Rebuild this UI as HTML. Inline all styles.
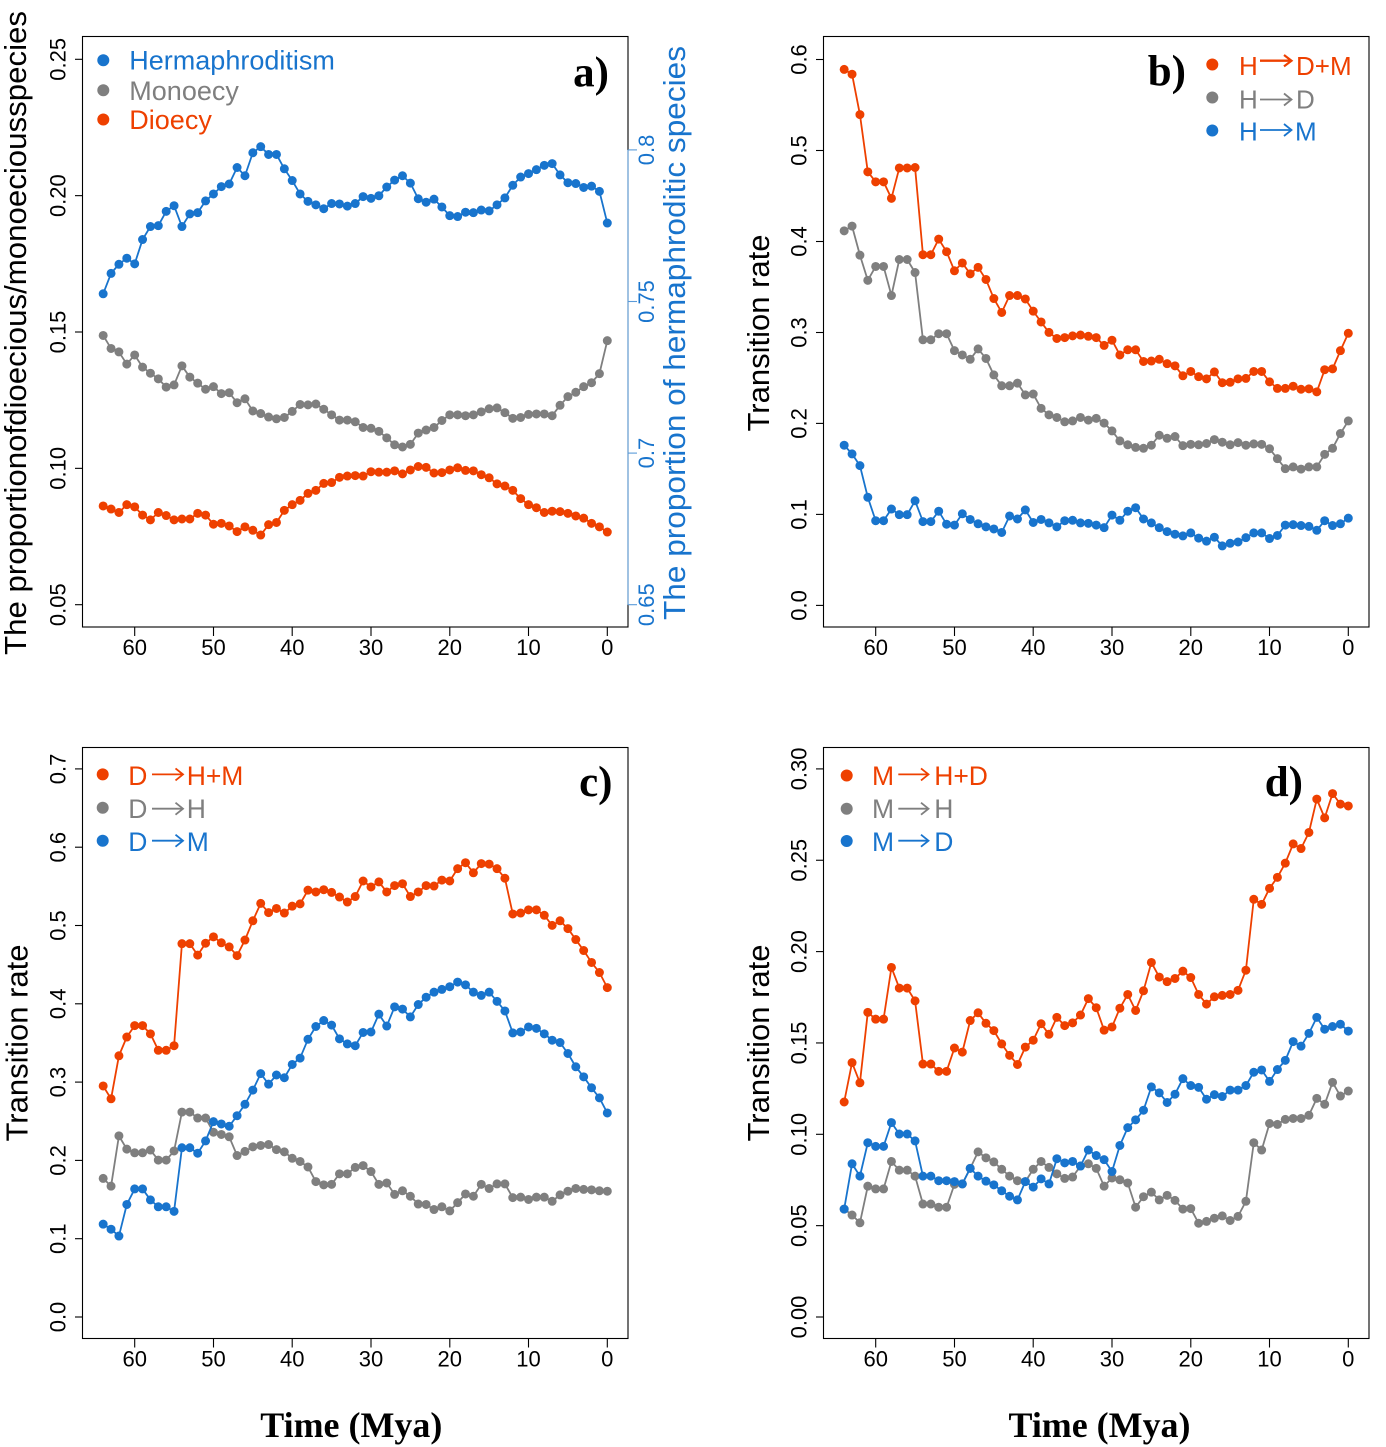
<!DOCTYPE html>
<html><head><meta charset="utf-8"><style>
html,body{margin:0;padding:0;background:#fff}
svg{display:block}
.l{fill:none;stroke-width:1.8;stroke-linejoin:round}
.d{fill:none;stroke-width:9;stroke-linecap:round}
.tk{font-family:"Liberation Sans",Arial,sans-serif;font-size:22px}
.lg{font-family:"Liberation Sans",Arial,sans-serif}
.pl{font-family:"Liberation Serif","Times New Roman",serif;font-weight:bold;font-size:43px}
.tt{font-family:"Liberation Sans",Arial,sans-serif;font-size:31px}
</style></head><body>
<svg width="1386" height="1447" viewBox="0 0 1386 1447" xmlns="http://www.w3.org/2000/svg">
<rect width="1386" height="1447" fill="#fff"/>

<!-- boxes -->
<g fill="none" stroke="#000" stroke-width="1.1">
<rect x="82.5" y="36.5" width="545.5" height="590.5"/>
<rect x="823.5" y="36.5" width="545.5" height="590.5"/>
<rect x="82.5" y="747.5" width="545.5" height="591"/>
<rect x="823.5" y="747.5" width="545.5" height="591"/>
</g>
<!-- right axis panel a -->
<line x1="628" y1="149.9" x2="628" y2="604.7" stroke="#7BAEE0" stroke-width="1.3"/>
<g stroke="#5A9AD8" stroke-width="1.1">
<line x1="628" y1="604.7" x2="637" y2="604.7"/><line x1="628" y1="453.1" x2="637" y2="453.1"/><line x1="628" y1="301.5" x2="637" y2="301.5"/><line x1="628" y1="149.9" x2="637" y2="149.9"/>
</g>

<!-- ticks -->
<g stroke="#000" stroke-width="1.1">
<line x1="75" y1="604.7" x2="82.5" y2="604.7"/><line x1="75" y1="468.35" x2="82.5" y2="468.35"/><line x1="75" y1="332" x2="82.5" y2="332"/><line x1="75" y1="195.65" x2="82.5" y2="195.65"/><line x1="75" y1="59.3" x2="82.5" y2="59.3"/>
<line x1="816" y1="605.4" x2="823.5" y2="605.4"/><line x1="816" y1="514.4" x2="823.5" y2="514.4"/><line x1="816" y1="423.4" x2="823.5" y2="423.4"/><line x1="816" y1="332.5" x2="823.5" y2="332.5"/><line x1="816" y1="241.5" x2="823.5" y2="241.5"/><line x1="816" y1="150.5" x2="823.5" y2="150.5"/><line x1="816" y1="59.5" x2="823.5" y2="59.5"/>
<line x1="75" y1="1317" x2="82.5" y2="1317"/><line x1="75" y1="1238.7" x2="82.5" y2="1238.7"/><line x1="75" y1="1160.4" x2="82.5" y2="1160.4"/><line x1="75" y1="1082.1" x2="82.5" y2="1082.1"/><line x1="75" y1="1003.8" x2="82.5" y2="1003.8"/><line x1="75" y1="925.5" x2="82.5" y2="925.5"/><line x1="75" y1="847.2" x2="82.5" y2="847.2"/><line x1="75" y1="768.9" x2="82.5" y2="768.9"/>
<line x1="816" y1="1317" x2="823.5" y2="1317"/><line x1="816" y1="1225.65" x2="823.5" y2="1225.65"/><line x1="816" y1="1134.3" x2="823.5" y2="1134.3"/><line x1="816" y1="1042.95" x2="823.5" y2="1042.95"/><line x1="816" y1="951.6" x2="823.5" y2="951.6"/><line x1="816" y1="860.25" x2="823.5" y2="860.25"/><line x1="816" y1="768.9" x2="823.5" y2="768.9"/>
<line x1="607.3" y1="627" x2="607.3" y2="636"/><line x1="528.5" y1="627" x2="528.5" y2="636"/><line x1="449.8" y1="627" x2="449.8" y2="636"/><line x1="371" y1="627" x2="371" y2="636"/><line x1="292.2" y1="627" x2="292.2" y2="636"/><line x1="213.5" y1="627" x2="213.5" y2="636"/><line x1="134.7" y1="627" x2="134.7" y2="636"/>
<line x1="1348.3" y1="627" x2="1348.3" y2="636"/><line x1="1269.5" y1="627" x2="1269.5" y2="636"/><line x1="1190.8" y1="627" x2="1190.8" y2="636"/><line x1="1112" y1="627" x2="1112" y2="636"/><line x1="1033.2" y1="627" x2="1033.2" y2="636"/><line x1="954.5" y1="627" x2="954.5" y2="636"/><line x1="875.7" y1="627" x2="875.7" y2="636"/>
<line x1="607.3" y1="1338.5" x2="607.3" y2="1347.5"/><line x1="528.5" y1="1338.5" x2="528.5" y2="1347.5"/><line x1="449.8" y1="1338.5" x2="449.8" y2="1347.5"/><line x1="371" y1="1338.5" x2="371" y2="1347.5"/><line x1="292.2" y1="1338.5" x2="292.2" y2="1347.5"/><line x1="213.5" y1="1338.5" x2="213.5" y2="1347.5"/><line x1="134.7" y1="1338.5" x2="134.7" y2="1347.5"/>
<line x1="1348.3" y1="1338.5" x2="1348.3" y2="1347.5"/><line x1="1269.5" y1="1338.5" x2="1269.5" y2="1347.5"/><line x1="1190.8" y1="1338.5" x2="1190.8" y2="1347.5"/><line x1="1112" y1="1338.5" x2="1112" y2="1347.5"/><line x1="1033.2" y1="1338.5" x2="1033.2" y2="1347.5"/><line x1="954.5" y1="1338.5" x2="954.5" y2="1347.5"/><line x1="875.7" y1="1338.5" x2="875.7" y2="1347.5"/>
</g>

<!-- x tick labels -->
<g class="tk" text-anchor="middle" fill="#000">
<text x="607.3" y="655">0</text><text x="528.5" y="655">10</text><text x="449.8" y="655">20</text><text x="371" y="655">30</text><text x="292.2" y="655">40</text><text x="213.5" y="655">50</text><text x="134.7" y="655">60</text>
<text x="1348.3" y="655">0</text><text x="1269.5" y="655">10</text><text x="1190.8" y="655">20</text><text x="1112" y="655">30</text><text x="1033.2" y="655">40</text><text x="954.5" y="655">50</text><text x="875.7" y="655">60</text>
<text x="607.3" y="1366.5">0</text><text x="528.5" y="1366.5">10</text><text x="449.8" y="1366.5">20</text><text x="371" y="1366.5">30</text><text x="292.2" y="1366.5">40</text><text x="213.5" y="1366.5">50</text><text x="134.7" y="1366.5">60</text>
<text x="1348.3" y="1366.5">0</text><text x="1269.5" y="1366.5">10</text><text x="1190.8" y="1366.5">20</text><text x="1112" y="1366.5">30</text><text x="1033.2" y="1366.5">40</text><text x="954.5" y="1366.5">50</text><text x="875.7" y="1366.5">60</text>
</g>

<!-- y tick labels -->
<g class="tk" text-anchor="middle" fill="#000">
<text transform="translate(65.5,604.7) rotate(-90)">0.05</text>
<text transform="translate(65.5,468.35) rotate(-90)">0.10</text>
<text transform="translate(65.5,332) rotate(-90)">0.15</text>
<text transform="translate(65.5,195.65) rotate(-90)">0.20</text>
<text transform="translate(65.5,59.3) rotate(-90)">0.25</text>

<text transform="translate(806.5,605.4) rotate(-90)">0.0</text>
<text transform="translate(806.5,514.4) rotate(-90)">0.1</text>
<text transform="translate(806.5,423.4) rotate(-90)">0.2</text>
<text transform="translate(806.5,332.5) rotate(-90)">0.3</text>
<text transform="translate(806.5,241.5) rotate(-90)">0.4</text>
<text transform="translate(806.5,150.5) rotate(-90)">0.5</text>
<text transform="translate(806.5,59.5) rotate(-90)">0.6</text>

<text transform="translate(65.5,1317) rotate(-90)">0.0</text>
<text transform="translate(65.5,1238.7) rotate(-90)">0.1</text>
<text transform="translate(65.5,1160.4) rotate(-90)">0.2</text>
<text transform="translate(65.5,1082.1) rotate(-90)">0.3</text>
<text transform="translate(65.5,1003.8) rotate(-90)">0.4</text>
<text transform="translate(65.5,925.5) rotate(-90)">0.5</text>
<text transform="translate(65.5,847.2) rotate(-90)">0.6</text>
<text transform="translate(65.5,768.9) rotate(-90)">0.7</text>

<text transform="translate(806.5,1317) rotate(-90)">0.00</text>
<text transform="translate(806.5,1225.65) rotate(-90)">0.05</text>
<text transform="translate(806.5,1134.3) rotate(-90)">0.10</text>
<text transform="translate(806.5,1042.95) rotate(-90)">0.15</text>
<text transform="translate(806.5,951.6) rotate(-90)">0.20</text>
<text transform="translate(806.5,860.25) rotate(-90)">0.25</text>
<text transform="translate(806.5,768.9) rotate(-90)">0.30</text>
</g>
<g class="tk" text-anchor="middle" fill="#1874CD">
<text transform="translate(654,604.7) rotate(-90)">0.65</text>
<text transform="translate(654,453.1) rotate(-90)">0.7</text>
<text transform="translate(654,301.5) rotate(-90)">0.75</text>
<text transform="translate(654,149.9) rotate(-90)">0.8</text>
</g>

<!-- axis titles -->
<g class="tt" text-anchor="middle">
<text transform="translate(26,333) rotate(-90)" fill="#000" textLength="644" lengthAdjust="spacingAndGlyphs">The proportionofdioecious/monoeciousspecies</text>
<text transform="translate(685,333) rotate(-90)" fill="#1874CD" textLength="574" lengthAdjust="spacingAndGlyphs">The proportion of hermaphroditic species</text>
<text transform="translate(769,333) rotate(-90)" fill="#000" textLength="197" lengthAdjust="spacingAndGlyphs">Transition rate</text>
<text transform="translate(27.5,1043) rotate(-90)" fill="#000" textLength="197" lengthAdjust="spacingAndGlyphs">Transition rate</text>
<text transform="translate(769,1043) rotate(-90)" fill="#000" textLength="197" lengthAdjust="spacingAndGlyphs">Transition rate</text>
</g>
<g font-family="'Liberation Serif','Times New Roman',serif" font-weight="bold" font-size="36" text-anchor="middle" fill="#000">
<text x="351.3" y="1437" textLength="182" lengthAdjust="spacingAndGlyphs">Time (Mya)</text>
<text x="1099.5" y="1437" textLength="182" lengthAdjust="spacingAndGlyphs">Time (Mya)</text>
</g>

<!-- panel labels -->
<g class="pl" text-anchor="end" fill="#000">
<text x="609" y="86.7">a)</text>
<text x="1186" y="85">b)</text>
<text x="612.5" y="796">c)</text>
<text x="1303" y="796">d)</text>
</g>

<!-- ===== Panel a data ===== -->
<g transform="matrix(-7.877 0 0 0.43395 607.3 0)">
<polyline class="l" vector-effect="non-scaling-stroke" stroke="#1874CD" points="64,677 63,630 62,609 61,595 60,608 59,552 58,522 57,520 56,487 55,474 54,522 53,493 52,490 51,463 50,447 49,430 48,424 47,386 46,405 45,352 44,338 43,356 42,356 41,389 40,416 39,447 38,464 37,472 36,481 35,469 34,470 33,475 32,469 31,453 30,457 29,451 28,431 27,415 26,405 25,422 24,458 23,466 22,459 21,477 20,497 19,499 18,489 17,490 16,484 15,486 14,472 13,456 12,427 11,408 10,400 9,391 8,381 7,377 6,403 5,421 4,423 3,432 2,429 1,441 0,514"/>
<path class="d" vector-effect="non-scaling-stroke" stroke="#1874CD" d="M64 677h0M63 630h0M62 609h0M61 595h0M60 608h0M59 552h0M58 522h0M57 520h0M56 487h0M55 474h0M54 522h0M53 493h0M52 490h0M51 463h0M50 447h0M49 430h0M48 424h0M47 386h0M46 405h0M45 352h0M44 338h0M43 356h0M42 356h0M41 389h0M40 416h0M39 447h0M38 464h0M37 472h0M36 481h0M35 469h0M34 470h0M33 475h0M32 469h0M31 453h0M30 457h0M29 451h0M28 431h0M27 415h0M26 405h0M25 422h0M24 458h0M23 466h0M22 459h0M21 477h0M20 497h0M19 499h0M18 489h0M17 490h0M16 484h0M15 486h0M14 472h0M13 456h0M12 427h0M11 408h0M10 400h0M9 391h0M8 381h0M7 377h0M6 403h0M5 421h0M4 423h0M3 432h0M2 429h0M1 441h0M0 514h0"/>
<polyline class="l" vector-effect="non-scaling-stroke" stroke="#7F7F7F" points="64,773 63,803 62,811 61,839 60,818 59,846 58,860 57,873 56,892 55,887 54,843 53,869 52,883 51,897 50,891 49,907 48,905 47,928 46,919 45,947 44,953 43,961 42,965 41,962 40,948 39,932 38,933 37,931 36,943 35,956 34,968 33,968 32,972 31,985 30,987 29,994 28,1009 27,1025 26,1030 25,1024 24,998 23,991 22,985 21,969 20,956 19,956 18,958 17,956 16,949 15,942 14,940 13,951 12,964 11,962 10,955 9,954 8,954 7,958 6,934 5,914 4,904 3,891 2,882 1,861 0,785"/>
<path class="d" vector-effect="non-scaling-stroke" stroke="#7F7F7F" d="M64 773h0M63 803h0M62 811h0M61 839h0M60 818h0M59 846h0M58 860h0M57 873h0M56 892h0M55 887h0M54 843h0M53 869h0M52 883h0M51 897h0M50 891h0M49 907h0M48 905h0M47 928h0M46 919h0M45 947h0M44 953h0M43 961h0M42 965h0M41 962h0M40 948h0M39 932h0M38 933h0M37 931h0M36 943h0M35 956h0M34 968h0M33 968h0M32 972h0M31 985h0M30 987h0M29 994h0M28 1009h0M27 1025h0M26 1030h0M25 1024h0M24 998h0M23 991h0M22 985h0M21 969h0M20 956h0M19 956h0M18 958h0M17 956h0M16 949h0M15 942h0M14 940h0M13 951h0M12 964h0M11 962h0M10 955h0M9 954h0M8 954h0M7 958h0M6 934h0M5 914h0M4 904h0M3 891h0M2 882h0M1 861h0M0 785h0"/>
<polyline class="l" vector-effect="non-scaling-stroke" stroke="#EE4000" points="64,1166 63,1173 62,1181 61,1163 60,1168 59,1187 58,1198 57,1181 56,1188 55,1198 54,1196 53,1196 52,1183 51,1187 50,1208 49,1206 48,1212 47,1225 46,1214 45,1222 44,1233 43,1209 42,1204 41,1176 40,1163 39,1153 38,1137 37,1130 36,1114 35,1112 34,1100 33,1097 32,1096 31,1097 30,1087 29,1088 28,1088 27,1085 26,1092 25,1083 24,1075 23,1077 22,1090 21,1089 20,1083 19,1078 18,1084 17,1085 16,1094 15,1101 14,1115 13,1120 12,1130 11,1149 10,1163 9,1170 8,1181 7,1178 6,1179 5,1183 4,1189 3,1194 2,1206 1,1214 0,1226"/>
<path class="d" vector-effect="non-scaling-stroke" stroke="#EE4000" d="M64 1166h0M63 1173h0M62 1181h0M61 1163h0M60 1168h0M59 1187h0M58 1198h0M57 1181h0M56 1188h0M55 1198h0M54 1196h0M53 1196h0M52 1183h0M51 1187h0M50 1208h0M49 1206h0M48 1212h0M47 1225h0M46 1214h0M45 1222h0M44 1233h0M43 1209h0M42 1204h0M41 1176h0M40 1163h0M39 1153h0M38 1137h0M37 1130h0M36 1114h0M35 1112h0M34 1100h0M33 1097h0M32 1096h0M31 1097h0M30 1087h0M29 1088h0M28 1088h0M27 1085h0M26 1092h0M25 1083h0M24 1075h0M23 1077h0M22 1090h0M21 1089h0M20 1083h0M19 1078h0M18 1084h0M17 1085h0M16 1094h0M15 1101h0M14 1115h0M13 1120h0M12 1130h0M11 1149h0M10 1163h0M9 1170h0M8 1181h0M7 1178h0M6 1179h0M5 1183h0M4 1189h0M3 1194h0M2 1206h0M1 1214h0M0 1226h0"/>
</g>

<!-- ===== Panel b data ===== -->
<g transform="matrix(-7.877 0 0 0.43395 1348.3 0)">
<polyline class="l" vector-effect="non-scaling-stroke" stroke="#1874CD" points="64,1026 63,1046 62,1073 61,1146 60,1200 59,1200 58,1173 57,1186 56,1186 55,1154 54,1202 53,1202 52,1178 51,1208 50,1210 49,1184 48,1197 47,1207 46,1214 45,1219 44,1227 43,1189 42,1196 41,1175 40,1204 39,1197 38,1205 37,1214 36,1200 35,1199 34,1205 33,1206 32,1210 31,1216 30,1187 29,1199 28,1178 27,1170 26,1196 25,1205 24,1216 23,1225 22,1231 21,1235 20,1228 19,1240 18,1247 17,1238 16,1258 15,1252 14,1249 13,1239 12,1228 11,1228 10,1241 9,1234 8,1210 7,1209 6,1211 5,1213 4,1222 3,1200 2,1211 1,1207 0,1194"/>
<path class="d" vector-effect="non-scaling-stroke" stroke="#1874CD" d="M64 1026h0M63 1046h0M62 1073h0M61 1146h0M60 1200h0M59 1200h0M58 1173h0M57 1186h0M56 1186h0M55 1154h0M54 1202h0M53 1202h0M52 1178h0M51 1208h0M50 1210h0M49 1184h0M48 1197h0M47 1207h0M46 1214h0M45 1219h0M44 1227h0M43 1189h0M42 1196h0M41 1175h0M40 1204h0M39 1197h0M38 1205h0M37 1214h0M36 1200h0M35 1199h0M34 1205h0M33 1206h0M32 1210h0M31 1216h0M30 1187h0M29 1199h0M28 1178h0M27 1170h0M26 1196h0M25 1205h0M24 1216h0M23 1225h0M22 1231h0M21 1235h0M20 1228h0M19 1240h0M18 1247h0M17 1238h0M16 1258h0M15 1252h0M14 1249h0M13 1239h0M12 1228h0M11 1228h0M10 1241h0M9 1234h0M8 1210h0M7 1209h0M6 1211h0M5 1213h0M4 1222h0M3 1200h0M2 1211h0M1 1207h0M0 1194h0"/>
<polyline class="l" vector-effect="non-scaling-stroke" stroke="#7F7F7F" points="64,532 63,521 62,588 61,646 60,614 59,614 58,681 57,598 56,598 55,628 54,783 53,783 52,769 51,769 50,808 49,818 48,828 47,804 46,826 45,864 44,889 43,889 42,883 41,910 40,908 39,941 38,956 37,962 36,972 35,970 34,962 33,968 32,964 31,975 30,993 29,1016 28,1025 27,1031 26,1033 25,1026 24,1003 23,1010 22,1006 21,1027 20,1024 19,1025 18,1022 17,1013 16,1019 15,1025 14,1020 13,1026 12,1023 11,1024 10,1034 9,1057 8,1080 7,1076 6,1081 5,1076 4,1076 3,1047 2,1033 1,999 0,970"/>
<path class="d" vector-effect="non-scaling-stroke" stroke="#7F7F7F" d="M64 532h0M63 521h0M62 588h0M61 646h0M60 614h0M59 614h0M58 681h0M57 598h0M56 598h0M55 628h0M54 783h0M53 783h0M52 769h0M51 769h0M50 808h0M49 818h0M48 828h0M47 804h0M46 826h0M45 864h0M44 889h0M43 889h0M42 883h0M41 910h0M40 908h0M39 941h0M38 956h0M37 962h0M36 972h0M35 970h0M34 962h0M33 968h0M32 964h0M31 975h0M30 993h0M29 1016h0M28 1025h0M27 1031h0M26 1033h0M25 1026h0M24 1003h0M23 1010h0M22 1006h0M21 1027h0M20 1024h0M19 1025h0M18 1022h0M17 1013h0M16 1019h0M15 1025h0M14 1020h0M13 1026h0M12 1023h0M11 1024h0M10 1034h0M9 1057h0M8 1080h0M7 1076h0M6 1081h0M5 1076h0M4 1076h0M3 1047h0M2 1033h0M1 999h0M0 970h0"/>
<polyline class="l" vector-effect="non-scaling-stroke" stroke="#EE4000" points="64,160 63,171 62,264 61,396 60,419 59,419 58,457 57,387 56,387 55,386 54,587 53,587 52,551 51,580 50,624 49,606 48,631 47,616 46,644 45,688 44,720 43,681 42,681 41,689 40,717 39,742 38,766 37,780 36,778 35,774 34,772 33,775 32,778 31,796 30,784 29,818 28,806 27,806 26,833 25,832 24,828 23,838 22,843 21,866 20,856 19,868 18,873 17,857 16,882 15,881 14,873 13,872 12,856 11,856 10,880 9,895 8,895 7,890 6,897 5,896 4,903 3,852 2,850 1,808 0,768"/>
<path class="d" vector-effect="non-scaling-stroke" stroke="#EE4000" d="M64 160h0M63 171h0M62 264h0M61 396h0M60 419h0M59 419h0M58 457h0M57 387h0M56 387h0M55 386h0M54 587h0M53 587h0M52 551h0M51 580h0M50 624h0M49 606h0M48 631h0M47 616h0M46 644h0M45 688h0M44 720h0M43 681h0M42 681h0M41 689h0M40 717h0M39 742h0M38 766h0M37 780h0M36 778h0M35 774h0M34 772h0M33 775h0M32 778h0M31 796h0M30 784h0M29 818h0M28 806h0M27 806h0M26 833h0M25 832h0M24 828h0M23 838h0M22 843h0M21 866h0M20 856h0M19 868h0M18 873h0M17 857h0M16 882h0M15 881h0M14 873h0M13 872h0M12 856h0M11 856h0M10 880h0M9 895h0M8 895h0M7 890h0M6 897h0M5 896h0M4 903h0M3 852h0M2 850h0M1 808h0M0 768h0"/>
</g>

<!-- ===== Panel c data ===== -->
<g transform="matrix(-7.877 0 0 0.45756 607.3 730)">
<polyline class="l" vector-effect="non-scaling-stroke" stroke="#7F7F7F" points="64,980 63,997 62,887 61,916 60,924 59,924 58,918 57,940 56,940 55,920 54,835 53,835 52,848 51,848 50,879 49,884 48,889 47,930 46,921 45,911 44,908 43,906 42,917 41,922 40,936 39,943 38,955 37,987 36,994 35,993 34,970 33,970 32,956 31,952 30,965 29,993 28,990 27,1015 26,1007 25,1019 24,1036 23,1037 22,1048 21,1042 20,1051 19,1033 18,1014 17,1019 16,993 15,1002 14,992 13,992 12,1022 11,1021 10,1026 9,1021 8,1021 7,1030 6,1016 5,1008 4,1002 3,1004 2,1005 1,1007 0,1008"/>
<path class="d" vector-effect="non-scaling-stroke" stroke="#7F7F7F" d="M64 980h0M63 997h0M62 887h0M61 916h0M60 924h0M59 924h0M58 918h0M57 940h0M56 940h0M55 920h0M54 835h0M53 835h0M52 848h0M51 848h0M50 879h0M49 884h0M48 889h0M47 930h0M46 921h0M45 911h0M44 908h0M43 906h0M42 917h0M41 922h0M40 936h0M39 943h0M38 955h0M37 987h0M36 994h0M35 993h0M34 970h0M33 970h0M32 956h0M31 952h0M30 965h0M29 993h0M28 990h0M27 1015h0M26 1007h0M25 1019h0M24 1036h0M23 1037h0M22 1048h0M21 1042h0M20 1051h0M19 1033h0M18 1014h0M17 1019h0M16 993h0M15 1002h0M14 992h0M13 992h0M12 1022h0M11 1021h0M10 1026h0M9 1021h0M8 1021h0M7 1030h0M6 1016h0M5 1008h0M4 1002h0M3 1004h0M2 1005h0M1 1007h0M0 1008h0"/>
<polyline class="l" vector-effect="non-scaling-stroke" stroke="#1874CD" points="64,1080 63,1091 62,1106 61,1037 60,1003 59,1003 58,1027 57,1042 56,1042 55,1052 54,913 53,913 52,925 51,898 50,856 49,861 48,866 47,843 46,818 45,787 44,751 43,774 42,754 41,760 40,731 39,717 38,676 37,648 36,635 35,645 34,675 33,686 32,690 31,661 30,660 29,621 28,647 27,605 26,610 25,627 24,600 23,584 22,573 21,567 20,561 19,551 18,557 17,573 16,580 15,573 14,593 13,614 12,662 11,660 10,649 9,652 8,664 7,678 6,683 5,707 4,736 3,758 2,782 1,804 0,837"/>
<path class="d" vector-effect="non-scaling-stroke" stroke="#1874CD" d="M64 1080h0M63 1091h0M62 1106h0M61 1037h0M60 1003h0M59 1003h0M58 1027h0M57 1042h0M56 1042h0M55 1052h0M54 913h0M53 913h0M52 925h0M51 898h0M50 856h0M49 861h0M48 866h0M47 843h0M46 818h0M45 787h0M44 751h0M43 774h0M42 754h0M41 760h0M40 731h0M39 717h0M38 676h0M37 648h0M36 635h0M35 645h0M34 675h0M33 686h0M32 690h0M31 661h0M30 660h0M29 621h0M28 647h0M27 605h0M26 610h0M25 627h0M24 600h0M23 584h0M22 573h0M21 567h0M20 561h0M19 551h0M18 557h0M17 573h0M16 580h0M15 573h0M14 593h0M13 614h0M12 662h0M11 660h0M10 649h0M9 652h0M8 664h0M7 678h0M6 683h0M5 707h0M4 736h0M3 758h0M2 782h0M1 804h0M0 837h0"/>
<polyline class="l" vector-effect="non-scaling-stroke" stroke="#EE4000" points="64,778 63,806 62,712 61,671 60,646 59,646 58,664 57,700 56,700 55,690 54,467 53,467 52,492 51,466 50,452 49,465 48,474 47,493 46,459 45,417 44,379 43,399 42,390 41,400 40,385 39,380 38,350 37,354 36,349 35,355 34,365 33,376 32,364 31,330 30,343 29,332 28,354 27,340 26,336 25,364 24,354 23,340 22,341 21,328 20,330 19,303 18,290 17,312 16,292 15,293 14,303 13,324 12,402 11,400 10,393 9,393 8,405 7,427 6,417 5,434 4,458 3,482 2,508 1,530 0,563"/>
<path class="d" vector-effect="non-scaling-stroke" stroke="#EE4000" d="M64 778h0M63 806h0M62 712h0M61 671h0M60 646h0M59 646h0M58 664h0M57 700h0M56 700h0M55 690h0M54 467h0M53 467h0M52 492h0M51 466h0M50 452h0M49 465h0M48 474h0M47 493h0M46 459h0M45 417h0M44 379h0M43 399h0M42 390h0M41 400h0M40 385h0M39 380h0M38 350h0M37 354h0M36 349h0M35 355h0M34 365h0M33 376h0M32 364h0M31 330h0M30 343h0M29 332h0M28 354h0M27 340h0M26 336h0M25 364h0M24 354h0M23 340h0M22 341h0M21 328h0M20 330h0M19 303h0M18 290h0M17 312h0M16 292h0M15 293h0M14 303h0M13 324h0M12 402h0M11 400h0M10 393h0M9 393h0M8 405h0M7 427h0M6 417h0M5 434h0M4 458h0M3 482h0M2 508h0M1 530h0M0 563h0"/>
</g>

<!-- ===== Panel d data ===== -->
<g transform="matrix(-7.877 0 0 0.45756 1348.3 730)">
<polyline class="l" vector-effect="non-scaling-stroke" stroke="#7F7F7F" points="64,1047 63,1060 62,1077 61,997 60,1003 59,1003 58,943 57,962 56,962 55,975 54,1036 53,1036 52,1043 51,1043 50,993 49,992 48,958 47,922 46,935 45,944 44,960 43,975 42,985 41,987 40,960 39,943 38,956 37,970 36,980 35,977 34,953 33,948 32,958 31,997 30,979 29,983 28,990 27,1043 26,1020 25,1010 24,1027 23,1017 22,1028 21,1047 20,1046 19,1078 18,1074 17,1067 16,1062 15,1072 14,1063 13,1030 12,902 11,918 10,860 9,862 8,851 7,849 6,849 5,842 4,805 3,818 2,770 1,800 0,789"/>
<path class="d" vector-effect="non-scaling-stroke" stroke="#7F7F7F" d="M64 1047h0M63 1060h0M62 1077h0M61 997h0M60 1003h0M59 1003h0M58 943h0M57 962h0M56 962h0M55 975h0M54 1036h0M53 1036h0M52 1043h0M51 1043h0M50 993h0M49 992h0M48 958h0M47 922h0M46 935h0M45 944h0M44 960h0M43 975h0M42 985h0M41 987h0M40 960h0M39 943h0M38 956h0M37 970h0M36 980h0M35 977h0M34 953h0M33 948h0M32 958h0M31 997h0M30 979h0M29 983h0M28 990h0M27 1043h0M26 1020h0M25 1010h0M24 1027h0M23 1017h0M22 1028h0M21 1047h0M20 1046h0M19 1078h0M18 1074h0M17 1067h0M16 1062h0M15 1072h0M14 1063h0M13 1030h0M12 902h0M11 918h0M10 860h0M9 862h0M8 851h0M7 849h0M6 849h0M5 842h0M4 805h0M3 818h0M2 770h0M1 800h0M0 789h0"/>
<polyline class="l" vector-effect="non-scaling-stroke" stroke="#1874CD" points="64,1047 63,948 62,975 61,902 60,910 59,910 58,858 57,883 56,883 55,898 54,975 53,975 52,985 51,985 50,987 49,992 48,958 47,975 46,986 45,994 44,1007 43,1019 42,1027 41,987 40,999 39,981 38,992 37,937 36,946 35,943 34,953 33,918 32,930 31,939 30,965 29,908 28,869 27,852 26,831 25,780 24,793 23,814 22,796 21,762 20,777 19,781 18,807 17,797 16,801 15,787 14,787 13,777 12,748 11,743 10,768 9,742 8,722 7,681 6,691 5,663 4,628 3,654 2,648 1,643 0,658"/>
<path class="d" vector-effect="non-scaling-stroke" stroke="#1874CD" d="M64 1047h0M63 948h0M62 975h0M61 902h0M60 910h0M59 910h0M58 858h0M57 883h0M56 883h0M55 898h0M54 975h0M53 975h0M52 985h0M51 985h0M50 987h0M49 992h0M48 958h0M47 975h0M46 986h0M45 994h0M44 1007h0M43 1019h0M42 1027h0M41 987h0M40 999h0M39 981h0M38 992h0M37 937h0M36 946h0M35 943h0M34 953h0M33 918h0M32 930h0M31 939h0M30 965h0M29 908h0M28 869h0M27 852h0M26 831h0M25 780h0M24 793h0M23 814h0M22 796h0M21 762h0M20 777h0M19 781h0M18 807h0M17 797h0M16 801h0M15 787h0M14 787h0M13 777h0M12 748h0M11 743h0M10 768h0M9 742h0M8 722h0M7 681h0M6 691h0M5 663h0M4 628h0M3 654h0M2 648h0M1 643h0M0 658h0"/>
<polyline class="l" vector-effect="non-scaling-stroke" stroke="#EE4000" points="64,813 63,727 62,771 61,617 60,632 59,632 58,519 57,564 56,564 55,592 54,730 53,730 52,746 51,746 50,695 49,704 48,635 47,618 46,641 45,657 44,686 43,711 42,731 41,693 40,678 39,642 38,665 37,628 36,646 35,640 34,623 33,587 32,607 31,656 30,649 29,608 28,578 27,613 26,570 25,508 24,540 23,550 22,543 21,527 20,541 19,578 18,599 17,583 16,580 15,578 14,569 13,525 12,370 11,381 10,346 9,322 8,291 7,249 6,259 5,224 4,151 3,192 2,139 1,162 0,166"/>
<path class="d" vector-effect="non-scaling-stroke" stroke="#EE4000" d="M64 813h0M63 727h0M62 771h0M61 617h0M60 632h0M59 632h0M58 519h0M57 564h0M56 564h0M55 592h0M54 730h0M53 730h0M52 746h0M51 746h0M50 695h0M49 704h0M48 635h0M47 618h0M46 641h0M45 657h0M44 686h0M43 711h0M42 731h0M41 693h0M40 678h0M39 642h0M38 665h0M37 628h0M36 646h0M35 640h0M34 623h0M33 587h0M32 607h0M31 656h0M30 649h0M29 608h0M28 578h0M27 613h0M26 570h0M25 508h0M24 540h0M23 550h0M22 543h0M21 527h0M20 541h0M19 578h0M18 599h0M17 583h0M16 580h0M15 578h0M14 569h0M13 525h0M12 370h0M11 381h0M10 346h0M9 322h0M8 291h0M7 249h0M6 259h0M5 224h0M4 151h0M3 192h0M2 139h0M1 162h0M0 166h0"/>
</g>

<!-- ===== Legends ===== -->
<circle cx="103.3" cy="60.3" r="6" fill="#1874CD"/>
<circle cx="103.3" cy="90.3" r="6" fill="#7F7F7F"/>
<circle cx="103.3" cy="119.5" r="6" fill="#EE4000"/>
<g class="lg" font-size="27">
<text x="129.3" y="69.3" fill="#1874CD">Hermaphroditism</text>
<text x="129.3" y="100" fill="#7F7F7F">Monoecy</text>
<text x="129.3" y="129" fill="#EE4000">Dioecy</text>
</g>

<circle cx="1212.3" cy="64.5" r="6" fill="#EE4000"/>
<circle cx="1212.3" cy="97.5" r="6" fill="#7F7F7F"/>
<circle cx="1212.3" cy="130.5" r="6" fill="#1874CD"/>
<g class="lg" font-size="26">
<text x="1239" y="75" fill="#EE4000">H</text><text x="1296" y="75" fill="#EE4000">D+M</text>
<text x="1239" y="108.3" fill="#7F7F7F">H</text><text x="1296" y="108.3" fill="#7F7F7F">D</text>
<text x="1239" y="140.5" fill="#1874CD">H</text><text x="1295" y="140.5" fill="#1874CD">M</text>
</g>
<g fill="none" stroke-linecap="butt" stroke-linejoin="miter">
<line x1="1260" y1="60.7" x2="1291" y2="60.7" stroke="#EE4000" stroke-width="2.4"/>
<polyline points="1284,55 1291.5,60.7 1284,66.4" stroke="#EE4000" stroke-width="2.2"/>
<line x1="1260" y1="99.5" x2="1291" y2="99.5" stroke="#7F7F7F" stroke-width="1.8"/>
<polyline points="1284,93.5 1291.5,99.5 1284,105.5" stroke="#7F7F7F" stroke-width="1.8"/>
<line x1="1260" y1="130" x2="1291" y2="130" stroke="#1874CD" stroke-width="1.8"/>
<polyline points="1284,124 1291.5,130 1284,136" stroke="#1874CD" stroke-width="1.8"/>
</g>

<circle cx="102.7" cy="774.4" r="6" fill="#EE4000"/>
<circle cx="102.7" cy="807.8" r="6" fill="#7F7F7F"/>
<circle cx="102.7" cy="840.7" r="6" fill="#1874CD"/>
<g class="lg" font-size="26.5">
<text x="128.2" y="785" fill="#EE4000">D</text><text x="186.7" y="785" fill="#EE4000">H+M</text>
<text x="128.2" y="818" fill="#7F7F7F">D</text><text x="186.7" y="818" fill="#7F7F7F">H</text>
<text x="128.2" y="851" fill="#1874CD">D</text><text x="186.7" y="851" fill="#1874CD">M</text>
</g>
<g fill="none">
<line x1="152" y1="774.4" x2="182.5" y2="774.4" stroke="#EE4000" stroke-width="1.8"/>
<polyline points="175.5,768.4 183,774.4 175.5,780.4" stroke="#EE4000" stroke-width="1.8"/>
<line x1="152" y1="808.7" x2="182.5" y2="808.7" stroke="#7F7F7F" stroke-width="1.8"/>
<polyline points="175.5,802.7 183,808.7 175.5,814.7" stroke="#7F7F7F" stroke-width="1.8"/>
<line x1="152" y1="840.7" x2="182.5" y2="840.7" stroke="#1874CD" stroke-width="1.8"/>
<polyline points="175.5,834.7 183,840.7 175.5,846.7" stroke="#1874CD" stroke-width="1.8"/>
</g>

<circle cx="846.7" cy="775.5" r="6" fill="#EE4000"/>
<circle cx="846.7" cy="808.7" r="6" fill="#7F7F7F"/>
<circle cx="846.7" cy="841" r="6" fill="#1874CD"/>
<g class="lg" font-size="26.5">
<text x="872" y="785" fill="#EE4000">M</text><text x="934.2" y="785" fill="#EE4000">H+D</text>
<text x="872" y="818" fill="#7F7F7F">M</text><text x="934.2" y="818" fill="#7F7F7F">H</text>
<text x="872" y="851" fill="#1874CD">M</text><text x="934.2" y="851" fill="#1874CD">D</text>
</g>
<g fill="none">
<line x1="898.3" y1="774.4" x2="928" y2="774.4" stroke="#EE4000" stroke-width="1.8"/>
<polyline points="921,768.4 928.5,774.4 921,780.4" stroke="#EE4000" stroke-width="1.8"/>
<line x1="898.3" y1="808.7" x2="928" y2="808.7" stroke="#7F7F7F" stroke-width="1.8"/>
<polyline points="921,802.7 928.5,808.7 921,814.7" stroke="#7F7F7F" stroke-width="1.8"/>
<line x1="898.3" y1="840.7" x2="928" y2="840.7" stroke="#1874CD" stroke-width="1.8"/>
<polyline points="921,834.7 928.5,840.7 921,846.7" stroke="#1874CD" stroke-width="1.8"/>
</g>
</svg>
</body></html>
